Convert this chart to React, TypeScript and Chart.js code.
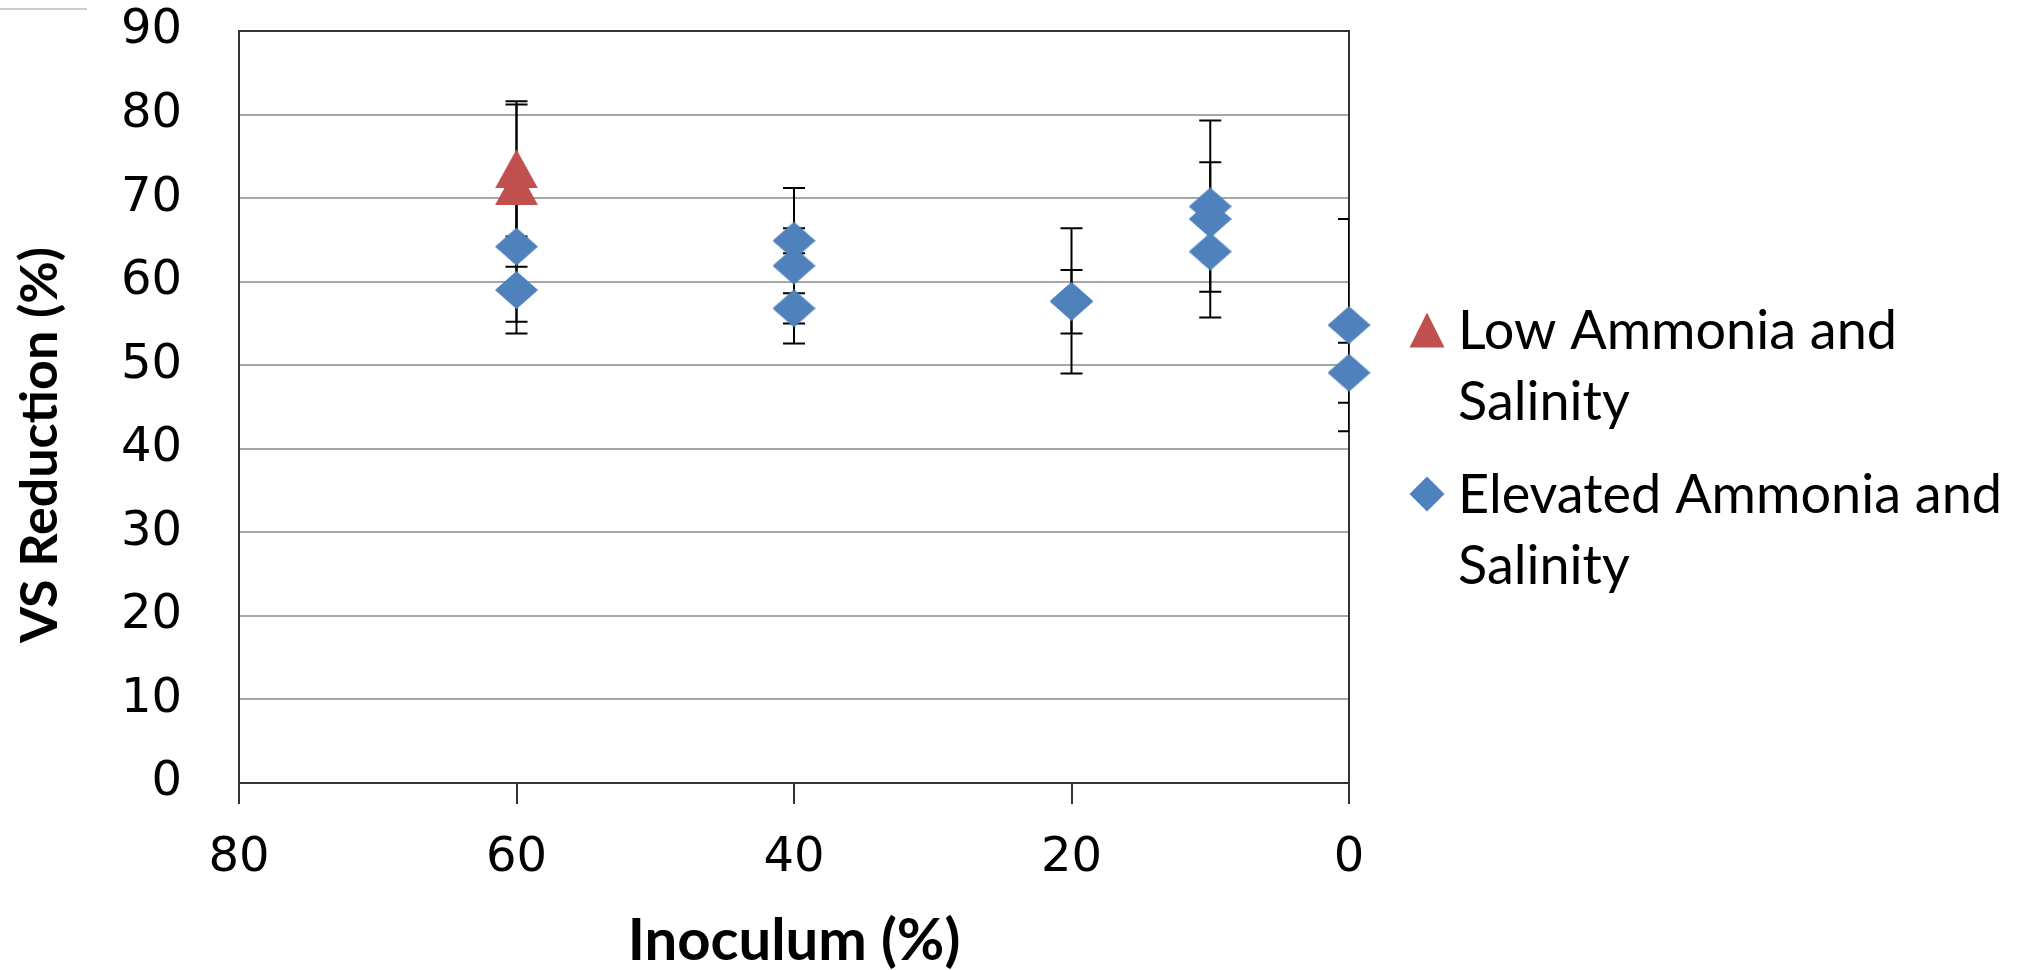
import React, { useEffect, useRef } from "react";
import { Chart, registerables } from "chart.js";

Chart.register(...registerables);

// ---------- data ----------
const xAxisTitle = "Inoculum (%)";
const yAxisTitle = "VS Reduction (%)";

const lowLabel = "Low Ammonia and Salinity";
const lowX = [60, 60];
const lowY = [73.5, 71.5];
const lowErr = [8.1, 9.7];

const elevLabel = "Elevated Ammonia and Salinity";
const elevX = [60, 60, 40, 40, 40, 20, 20, 10, 10, 10, 0, 0];
const elevY = [64.2, 59.0, 64.9, 61.9, 56.8, 57.7, 57.6, 69.0, 67.5, 63.6, 54.8, 49.1];
const elevErr = [9.0, 5.2, 1.5, 9.3, 1.8, 8.7, 3.8, 5.3, 11.8, 4.8, 12.7, 3.6];

const xMin = 0;
const xMax = 80;
const xStep = 20;
const yMin = 0;
const yMax = 90;
const yStep = 10;

const RED = "#C0504D";
const BLUE = "#4F81BD";
const AXIS = "#333333";
const GRID = "#a6a6a6";

function makeMarker(kind: string, w: number, h: number, color: string) {
  const c = document.createElement("canvas");
  c.width = w;
  c.height = h;
  const ctx = c.getContext("2d")!;
  ctx.fillStyle = color;
  ctx.beginPath();
  if (kind === "diamond") {
    ctx.moveTo(0, h / 2);
    ctx.lineTo(w / 2, 0);
    ctx.lineTo(w, h / 2);
    ctx.lineTo(w / 2, h);
  } else {
    ctx.moveTo(w / 2, 0);
    ctx.lineTo(w, h);
    ctx.lineTo(0, h);
  }
  ctx.closePath();
  ctx.fill();
  return c;
}

function wrapText(ctx: CanvasRenderingContext2D, text: string, maxWidth: number) {
  const words = text.split(" ");
  const lines: string[] = [];
  let cur = "";
  for (const w of words) {
    const t = cur ? cur + " " + w : w;
    if (cur && ctx.measureText(t).width > maxWidth) {
      lines.push(cur);
      cur = w;
    } else {
      cur = t;
    }
  }
  if (cur) lines.push(cur);
  return lines;
}

const framePlugin = {
  id: "frameAndErrors",
  beforeDatasetsDraw(chart: any, _a: any, opts: any) {
    const { ctx, chartArea: a, scales } = chart;
    const x = scales.x;
    const y = scales.y;
    ctx.save();
    ctx.strokeStyle = AXIS;
    ctx.lineWidth = 2;
    ctx.strokeRect(a.left, a.top, a.right - a.left, a.bottom - a.top);
    ctx.beginPath();
    ctx.rect(a.left, a.top, a.right - a.left, a.bottom - a.top);
    ctx.clip();
    ctx.strokeStyle = "#000";
    ctx.lineWidth = 2;
    const cap = 11;
    chart.data.datasets.forEach((ds: any, di: number) => {
      const errs: number[] = opts.errors[di];
      ds.data.forEach((p: any, i: number) => {
        const px = x.getPixelForValue(p.x);
        const top = y.getPixelForValue(p.y + errs[i]);
        const bot = y.getPixelForValue(p.y - errs[i]);
        ctx.beginPath();
        ctx.moveTo(px, top);
        ctx.lineTo(px, bot);
        ctx.moveTo(px - cap, top);
        ctx.lineTo(px + cap, top);
        ctx.moveTo(px - cap, bot);
        ctx.lineTo(px + cap, bot);
        ctx.stroke();
      });
    });
    ctx.restore();
  },
};

const sidePlugin = {
  id: "sideLegend",
  afterDraw(chart: any, _a: any, opts: any) {
    const ctx: CanvasRenderingContext2D = chart.ctx;
    ctx.save();
    // stray line at the top-left of the original picture
    ctx.strokeStyle = "#cccccc";
    ctx.lineWidth = 2;
    ctx.beginPath();
    ctx.moveTo(0, 9);
    ctx.lineTo(87, 9);
    ctx.stroke();

    // y axis title
    ctx.fillStyle = "#000";
    ctx.font = `bold ${opts.yTitleSize}px Lato, "Liberation Sans", sans-serif`;
    ctx.textAlign = "center";
    ctx.textBaseline = "middle";
    ctx.translate(opts.yTitleX, opts.yTitleY);
    ctx.rotate(-Math.PI / 2);
    ctx.fillText(yAxisTitle, 0, 0);
    ctx.restore();

    // legend
    ctx.save();
    ctx.font = `${opts.fontSize}px Lato, "Liberation Sans", sans-serif`;
    ctx.fillStyle = "#000";
    ctx.textAlign = "left";
    ctx.textBaseline = "alphabetic";
    let baseline = opts.firstBaseline;
    chart.data.datasets.forEach((ds: any, i: number) => {
      const lines = wrapText(ctx, ds.label, opts.maxWidth);
      const cy = baseline - opts.capHeight / 2;
      const cx = opts.markerX;
      const s = opts.markerSize;
      ctx.fillStyle = ds.backgroundColor;
      ctx.beginPath();
      if (i === 0) {
        ctx.moveTo(cx, cy - s / 2);
        ctx.lineTo(cx + s / 2, cy + s / 2);
        ctx.lineTo(cx - s / 2, cy + s / 2);
      } else {
        ctx.moveTo(cx - s / 2, cy);
        ctx.lineTo(cx, cy - s / 2);
        ctx.lineTo(cx + s / 2, cy);
        ctx.lineTo(cx, cy + s / 2);
      }
      ctx.closePath();
      ctx.fill();
      ctx.fillStyle = "#000";
      lines.forEach((ln, k) => {
        ctx.fillText(ln, opts.textX, baseline + k * opts.lineHeight);
      });
      baseline += (lines.length - 1) * opts.lineHeight + opts.itemGap;
    });
    ctx.restore();
  },
};

export default function App() {
  const ref = useRef<HTMLCanvasElement>(null);

  useEffect(() => {
    const triangle = makeMarker("triangle", 43, 39, RED);
    const diamond = makeMarker("diamond", 43, 38, BLUE);
    const chart = new Chart(ref.current!, {
      type: "scatter",
      data: {
        datasets: [
          {
            label: lowLabel,
            data: lowX.map((v, i) => ({ x: v, y: lowY[i] })),
            backgroundColor: RED,
            borderColor: RED,
            pointStyle: triangle as any,
            clip: false as any,
          },
          {
            label: elevLabel,
            data: elevX.map((v, i) => ({ x: v, y: elevY[i] })),
            backgroundColor: BLUE,
            borderColor: BLUE,
            pointStyle: diamond as any,
            clip: false as any,
          },
        ],
      },
      options: {
        responsive: false,
        animation: false,
        devicePixelRatio: 1,
        layout: { padding: { left: 0, top: 31, right: 671, bottom: 0 } },
        plugins: {
          legend: { display: false },
          tooltip: { enabled: false },
          frameAndErrors: { errors: [lowErr, elevErr] },
          sideLegend: {
            fontSize: 54,
            capHeight: 38,
            markerX: 1427,
            markerSize: 35,
            textX: 1458,
            firstBaseline: 349,
            lineHeight: 71,
            itemGap: 93,
            maxWidth: 565,
            yTitleSize: 52,
            yTitleX: 40,
            yTitleY: 445,
          },
        } as any,
        scales: {
          x: {
            type: "linear",
            reverse: true,
            min: xMin,
            max: xMax,
            ticks: {
              stepSize: xStep,
              color: "#000",
              font: { family: "DejaVu Sans", size: 48 },
              padding: 26,
            },
            grid: {
              drawOnChartArea: false,
              drawTicks: true,
              tickLength: 21,
              color: AXIS,
              lineWidth: 2,
            },
            border: { display: true, color: AXIS, width: 2 },
            title: {
              display: true,
              text: xAxisTitle,
              color: "#000",
              font: { family: "Lato", size: 58, weight: "bold", lineHeight: 1 },
              padding: { top: 0, bottom: 0 },
            },
            afterFit: (s: any) => {
              s.height = 187;
            },
          },
          y: {
            type: "linear",
            min: yMin,
            max: yMax,
            ticks: {
              stepSize: yStep,
              color: "#000",
              font: { family: "DejaVu Sans", size: 48 },
              padding: 57,
            },
            grid: { color: GRID, lineWidth: 2, drawTicks: false },
            border: { display: true, color: AXIS, width: 2 },
            afterFit: (s: any) => {
              s.width = 239;
              s.paddingTop = 0;
              s.paddingBottom = 0;
            },
          },
        },
      },
      plugins: [framePlugin, sidePlugin],
    } as any);
    return () => chart.destroy();
  }, []);

  return (
    <div style={{ position: "fixed", left: 0, top: 0, width: 2020, height: 970, background: "#fff" }}>
      <canvas ref={ref} width={2020} height={970} style={{ display: "block", width: 2020, height: 970 }} />
    </div>
  );
}
